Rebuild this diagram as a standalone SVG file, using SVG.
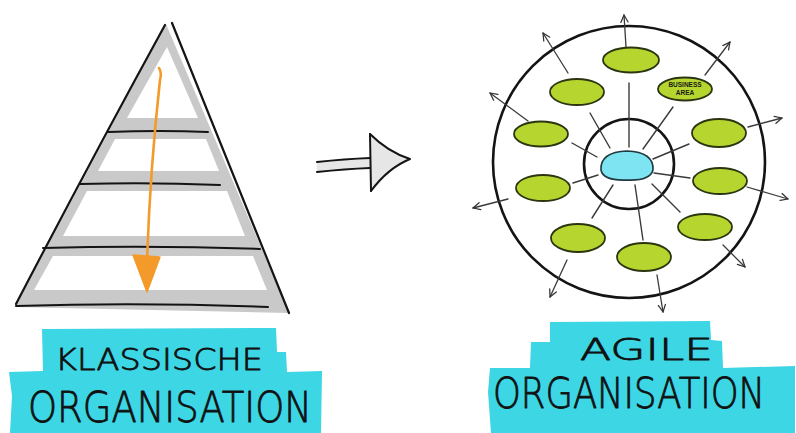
<svg xmlns="http://www.w3.org/2000/svg" width="796" height="433" viewBox="0 0 796 433">
  <defs>
    <marker id="openHead" viewBox="0 0 10 10" refX="9" refY="5" markerWidth="9" markerHeight="9" markerUnits="userSpaceOnUse" orient="auto">
      <path d="M1,1 L9,5 L1,9" fill="none" stroke="#333" stroke-width="1.4" stroke-linecap="round" stroke-linejoin="round"/>
    </marker>
    <style>
      .ink { fill: none; stroke: #141414; stroke-linecap: round; stroke-linejoin: round; }
      .ring { fill: none; stroke: #141414; stroke-width: 2.6; }
      .team { fill: #b6d52e; stroke: #2b3510; stroke-width: 1.8; }
      .spoke { fill: none; stroke: #3a3a3a; stroke-width: 1.4; stroke-linecap: round; }
      .out { fill: none; stroke: #3a3a3a; stroke-width: 1.3; stroke-linecap: round; marker-end: url(#openHead); }
      .hl { fill: #3cd6e4; }
      .hand { font-family: "DejaVu Sans", "Liberation Sans", sans-serif; font-weight: 200; fill: #111; stroke: #111; stroke-width: 0.8; stroke-linejoin: round; }
      .tag { font-family: "Liberation Sans", sans-serif; font-weight: bold; fill: #1a1a1a; }
      .white { fill: #ffffff; }
    </style>
  </defs>

  <rect width="796" height="433" fill="#ffffff"/>

  <!-- Pyramid: grey body, white inner sections, black outline and tiers -->
  <g id="pyramid">
    <polygon points="166,24 15,307 289,313" fill="#c9c9c9"/>
    <polygon class="white" points="167,47 127,118 198,118"/>
    <polygon class="white" points="115,139 206,139 219,171 98,171"/>
    <polygon class="white" points="87,191 227,191 245,236 63,236"/>
    <polygon class="white" points="53,256 253,256 267,290 34,290"/>
    <path class="ink" stroke-width="2.2" d="M165,25 Q90,162 16,304"/>
    <path class="ink" stroke-width="2.2" d="M172,23 Q230,166 289,313"/>
    <path class="ink" stroke-width="2" d="M108,132 Q160,130 208,132"/>
    <path class="ink" stroke-width="2" d="M80,184 Q150,182 220,185"/>
    <path class="ink" stroke-width="2" d="M43,248 Q150,245 260,249"/>
    <path class="ink" stroke-width="2" d="M16,306 Q140,302 268,307"/>
  </g>

  <!-- Top-down flow inside the pyramid -->
  <g id="hierarchy-arrow">
    <path d="M159,68 Q162,72 160,80 Q150,170 147,262" fill="none" stroke="#f39a2b" stroke-width="2.6" stroke-linecap="round"/>
    <polygon points="133,255 160,257 147,292" fill="#f39a2b" stroke="#f39a2b" stroke-width="1.5" stroke-linejoin="round"/>
  </g>

  <!-- Transition arrow -->
  <g id="transition">
    <path d="M317,162 Q345,159 370,158 L370,133 Q388,152 410,159 Q388,168 370,191 L370,168 Q345,169 317,172 Z" fill="#e6e6e6" stroke="none"/>
    <path class="ink" stroke-width="2" d="M317,162 Q345,159 370,158"/>
    <path class="ink" stroke-width="2" d="M317,172 Q345,169 370,168"/>
    <path class="ink" stroke-width="2" d="M370,134 L371,191"/>
    <path class="ink" stroke-width="2" d="M370,134 Q388,152 410,159 Q388,168 371,191"/>
  </g>

  <!-- Agile organisation rings -->
  <g id="outer-ring">
    <circle class="ring" cx="629" cy="162" r="136"/>
  </g>
  <g id="inner-ring">
    <circle class="ring" cx="629" cy="164" r="45"/>
  </g>
  <g id="core">
    <path d="M601,170 Q600,152 627,151 Q654,152 653,170 Q650,181 627,180 Q603,181 601,170 Z" fill="#7fe4f2" stroke="#1f3a40" stroke-width="1.6"/>
  </g>

  <!-- Connectors: spokes to the core and arrows pointing outward -->
  <g id="connectors">
    <line class="spoke" x1="629" y1="83" x2="629" y2="147"/>
    <line class="spoke" x1="590" y1="113" x2="610" y2="148"/>
    <line class="spoke" x1="673" y1="107" x2="643" y2="149"/>
    <line class="spoke" x1="572" y1="143" x2="597" y2="157"/>
    <line class="spoke" x1="689" y1="144" x2="653" y2="159"/>
    <line class="spoke" x1="573" y1="183" x2="598" y2="175"/>
    <line class="spoke" x1="690" y1="178" x2="654" y2="173"/>
    <line class="spoke" x1="592" y1="218" x2="613" y2="185"/>
    <line class="spoke" x1="680" y1="212" x2="652" y2="184"/>
    <line class="spoke" x1="643" y1="240" x2="635" y2="185"/>

    <line class="out" x1="626" y1="47" x2="624" y2="15"/>
    <line class="out" x1="568" y1="73" x2="543" y2="33"/>
    <line class="out" x1="705" y1="75" x2="730" y2="42"/>
    <line class="out" x1="528" y1="121" x2="490" y2="93"/>
    <line class="out" x1="748" y1="127" x2="782" y2="118"/>
    <line class="out" x1="508" y1="199" x2="473" y2="208"/>
    <line class="out" x1="747" y1="187" x2="788" y2="199"/>
    <line class="out" x1="567" y1="260" x2="550" y2="297"/>
    <line class="out" x1="723" y1="245" x2="745" y2="267"/>
    <line class="out" x1="657" y1="275" x2="663" y2="312"/>
  </g>

  <!-- Teams -->
  <g id="team-top"><ellipse class="team" cx="631" cy="60" rx="28" ry="12.5"/></g>
  <g id="team-upper-left"><ellipse class="team" cx="577" cy="92" rx="27" ry="13"/></g>
  <g id="team-business-area">
    <ellipse class="team" cx="685" cy="89" rx="27" ry="11.5"/>
    <text class="tag" x="685" y="87" font-size="6.5" text-anchor="middle">BUSINESS</text>
    <text class="tag" x="685" y="95" font-size="6.5" text-anchor="middle">AREA</text>
  </g>
  <g id="team-left"><ellipse class="team" cx="541" cy="134" rx="27" ry="12.5"/></g>
  <g id="team-right"><ellipse class="team" cx="719" cy="133" rx="27" ry="14"/></g>
  <g id="team-left-lower"><ellipse class="team" cx="543" cy="188" rx="27" ry="13"/></g>
  <g id="team-right-lower"><ellipse class="team" cx="720" cy="181" rx="27" ry="13"/></g>
  <g id="team-lower-left"><ellipse class="team" cx="578" cy="238" rx="27" ry="14"/></g>
  <g id="team-lower-right"><ellipse class="team" cx="705" cy="227" rx="27" ry="13"/></g>
  <g id="team-bottom"><ellipse class="team" cx="644" cy="257" rx="27" ry="14"/></g>

  <!-- Caption: classic organisation -->
  <g id="label-klassisch">
    <polygon class="hl" points="42,329 276,328 277,352 286,352 287,372 322,371 321,433 10,433 12,396 9,372 43,371"/>
    <text class="hand" x="55" y="370" font-size="31" textLength="208" lengthAdjust="spacingAndGlyphs">KLASSISCHE</text>
    <text class="hand" x="28" y="422" font-size="43" textLength="284" lengthAdjust="spacingAndGlyphs">ORGANISATION</text>
  </g>

  <!-- Caption: agile organisation -->
  <g id="label-agil">
    <polygon class="hl" points="550,322 710,321 711,340 722,341 723,368 795,366 795,433 491,433 488,392 490,368 530,368 531,342 550,342"/>
    <text class="hand" x="580" y="360" font-size="31" textLength="133" lengthAdjust="spacingAndGlyphs">AGILE</text>
    <text class="hand" transform="translate(493,408) scale(0.817,1)" x="0" y="0" font-size="43" textLength="333" lengthAdjust="spacingAndGlyphs">ORGANISATION</text>
  </g>
</svg>
